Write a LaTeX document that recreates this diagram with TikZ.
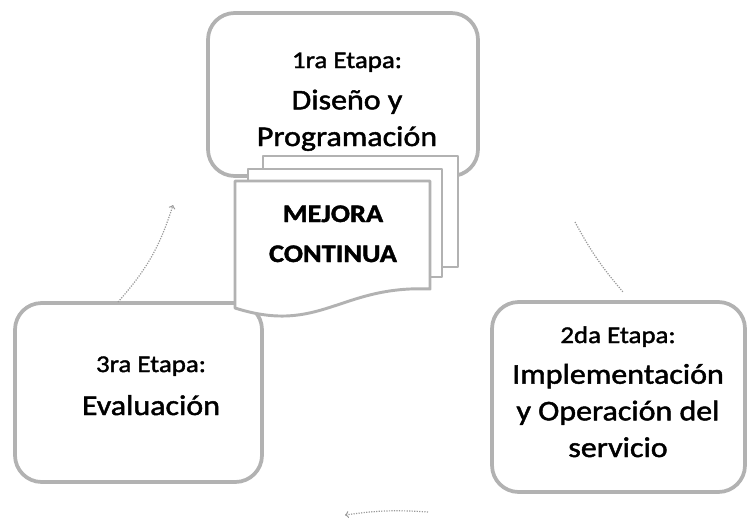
\documentclass[tikz,border=0pt]{standalone}
\usepackage{fontspec}
\setmainfont[FakeStretch=1.12, FakeBold=1.6]{Carlito}
\usepackage{tikz}

\tikzset{
  etapa/.style={draw=gray!60, line width=2.8pt, rounded corners=20pt, inner sep=0pt, fill=white},
  hoja/.style={draw=gray!60, line width=2.2pt, fill=white, line join=round},
  flecha/.style={gray!80, line width=0.9pt, densely dotted},
  chico/.style={font=\fontsize{18}{22}\selectfont, inner sep=0pt, anchor=base},
  grande/.style={font=\fontsize{21.4}{27.5}\selectfont, align=center, inner sep=0pt, anchor=base},
  mejoratxt/.style={font=\bfseries\fontsize{19}{30}\selectfont, align=center, inner sep=0pt, anchor=base},
}

\begin{document}
\begin{tikzpicture}[x=0.75pt,y=0.75pt,yscale=-1,xscale=1]
\useasboundingbox (0,0) rectangle (748,525);
% etapas
\node[etapa, minimum width=202.5pt, minimum height=122.25pt] (etapa1) at (343,94.5) {};
\node[etapa, minimum width=189.75pt, minimum height=142.5pt] (etapa2) at (618.5,397) {};
\node[etapa, minimum width=185.25pt, minimum height=134.25pt] (etapa3) at (138.5,392.5) {};
% hojas de mejora continua
\draw[hoja] (263,156) rectangle (458,267);
\draw[hoja] (248,169) rectangle (442,277);
\draw[hoja] (235,181) -- (430,181) -- (430,289) .. controls (340,285) and (320,335) .. (235,308) -- cycle;
% textos
\node[chico] (t1) at (347,68) {1ra Etapa:};
\node[grande] (t1b) at (347,146) {Diseño y\\Programación};
\node[mejoratxt] (mejora) at (333,262) {MEJORA\\CONTINUA};
\node[chico] (t2) at (618,343) {2da Etapa:};
\node[grande] (t2b) at (618,457) {Implementación\\y Operación del\\servicio};
\node[chico] (t3) at (151,372) {3ra Etapa:};
\node[grande] (t3b) at (151,415) {Evaluación};
% flechas
\coordinate (f3a) at (118,302);
\coordinate (f3b) at (173,205);
\coordinate (f1a) at (575,222);
\coordinate (f1b) at (623,292);
\coordinate (f2a) at (428,512);
\coordinate (f2b) at (345,515);
\draw[flecha,->] (f3a) to[bend left=12] (f3b);
\draw[flecha] (f1a) to[bend left=6] (f1b);
\draw[flecha,->] (f2a) to[bend left=6] (f2b);
\end{tikzpicture}
\end{document}
